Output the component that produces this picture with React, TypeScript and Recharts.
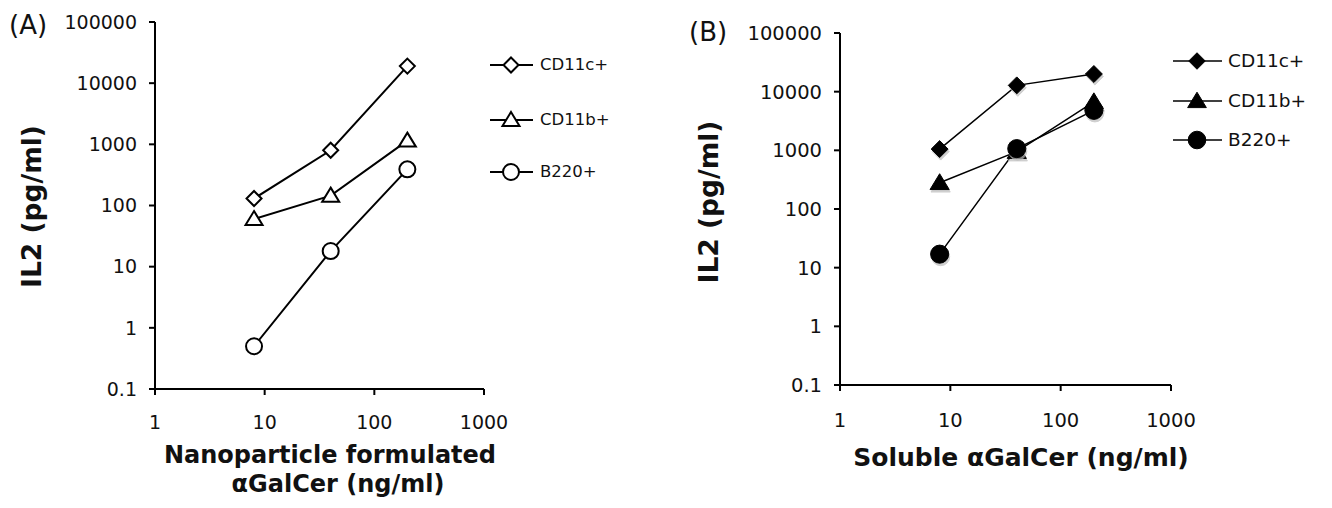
import React from 'react';
import { LineChart, Line, XAxis, YAxis, Legend } from 'recharts';

const xValues = [8, 40, 200];
const seriesNames = ['CD11c+', 'CD11b+', 'B220+'];
const seriesShapes = ['diamond', 'triangle', 'circle'];

const aCD11c = [130, 800, 19000];
const aCD11b = [60, 145, 1150];
const aB220 = [0.5, 18, 390];

const bCD11c = [1050, 12800, 20000];
const bCD11b = [280, 950, 6700];
const bB220 = [17, 1070, 4800];

const xTicks = [1, 10, 100, 1000];
const yTicks = [0.1, 1, 10, 100, 1000, 10000, 100000];

const FONT = '"DejaVu Sans", Verdana, sans-serif';

const buildRows = (s1: number[], s2: number[], s3: number[]) =>
  xValues.map((x, i) => ({ x, s0: s1[i], s1: s2[i], s2: s3[i] }));

const dataA = buildRows(aCD11c, aCD11b, aB220);
const dataB = buildRows(bCD11c, bCD11b, bB220);

function Marker({ cx, cy, shape, filled, scale = 1, shadow = false }: any) {
  const fill = filled ? '#000' : '#fff';
  const sw = filled ? 1 : 2;
  const render = (x: number, y: number, f: string, st: string, extra: any = {}) => {
    if (shape === 'diamond') {
      const s = 7.5 * scale;
      return <polygon points={`${x},${y - s} ${x + s},${y} ${x},${y + s} ${x - s},${y}`} fill={f} stroke={st} strokeWidth={sw} {...extra} />;
    }
    if (shape === 'triangle') {
      const w = 8.5 * scale;
      const h = 8 * scale;
      return <polygon points={`${x},${y - h} ${x + w},${y + h * 0.75} ${x - w},${y + h * 0.75}`} fill={f} stroke={st} strokeWidth={sw} strokeLinejoin="miter" {...extra} />;
    }
    return <circle cx={x} cy={y} r={8 * scale} fill={f} stroke={st} strokeWidth={sw} {...extra} />;
  };
  return (
    <g>
      {shadow ? render(cx + 1, cy + 2.5, '#bbb', '#bbb', { opacity: 0.7 }) : null}
      {render(cx, cy, fill, '#000')}
    </g>
  );
}

const makeDot = (shape: string, filled: boolean, shadow: boolean, scale: number) => (props: any) => {
  const { cx, cy, index } = props;
  if (cx == null || cy == null) return <g key={index} />;
  return <Marker key={index} cx={cx} cy={cy} shape={shape} filled={filled} shadow={shadow} scale={scale} />;
};

function LegendBox({ filled, rowTops, lineW, markerX, textX, fontSize, strokeW, markerScale }: any) {
  return (
    <div style={{ fontFamily: FONT, fontSize, color: '#111' }}>
      {seriesNames.map((name, i) => (
        <div key={name} style={{ position: 'absolute', left: 0, top: rowTops[i], height: 24, width: 200 }}>
          <svg width={lineW + 4} height={24} style={{ position: 'absolute', left: 0, top: 0 }}>
            <line x1={0} y1={12} x2={lineW} y2={12} stroke="#000" strokeWidth={strokeW} />
            <Marker cx={markerX} cy={12} shape={seriesShapes[i]} filled={filled} scale={markerScale} />
          </svg>
          <span style={{ position: 'absolute', left: textX, top: 0, lineHeight: '24px', whiteSpace: 'nowrap' }}>{name}</span>
        </div>
      ))}
    </div>
  );
}

function YTitle(props: any) {
  const { viewBox, cx, dy } = props;
  const y = viewBox.y + viewBox.height / 2 + dy;
  return (
    <text x={cx} y={y} transform={`rotate(-90 ${cx} ${y})`} textAnchor="middle" dominantBaseline="central"
      style={{ fontFamily: FONT, fontSize: 26.5, fontWeight: 'bold', fill: '#111' }}>
      IL2 (pg/ml)
    </text>
  );
}

function XTitle(props: any) {
  const { lines, cxs, ys, fontSize } = props;
  return (
    <text textAnchor="middle" style={{ fontFamily: FONT, fontSize, fontWeight: 'bold', fill: '#111' }}>
      {lines.map((l: string, i: number) => (
        <tspan key={i} x={cxs[i]} y={ys[i]}>{l}</tspan>
      ))}
    </text>
  );
}

function Panel({ data, filled, width, height, margin, tickMargin, yTickMargin, tickFont, xTitle, yTitleX, yTitleDy, tag, tagPos, legend, strokeW, markerScale }: any) {
  const tickStyle = { fontFamily: FONT, fontSize: tickFont, fill: '#111' };
  return (
    <LineChart width={width} height={height} data={data} margin={margin}>
      <XAxis
        dataKey="x"
        type="number"
        scale="log"
        domain={[1, 1000]}
        ticks={xTicks}
        allowDataOverflow
        stroke="#000"
        strokeWidth={2}
        tickSize={6}
        tickMargin={tickMargin}
        tick={tickStyle}
        height={30}
        label={<XTitle {...xTitle} />}
      />
      <YAxis
        type="number"
        scale="log"
        domain={[0.1, 100000]}
        ticks={yTicks}
        allowDataOverflow
        stroke="#000"
        strokeWidth={2}
        tickSize={6}
        tickMargin={yTickMargin}
        tick={tickStyle}
        width={70}
        tickFormatter={(v: number) => String(v)}
        label={<YTitle cx={yTitleX} dy={yTitleDy} />}
      />
      {['s0', 's1', 's2'].map((k, i) => (
        <Line
          key={k}
          dataKey={k}
          name={seriesNames[i]}
          stroke="#000"
          strokeWidth={strokeW}
          isAnimationActive={false}
          dot={makeDot(seriesShapes[i], filled, filled, markerScale)}
          activeDot={false}
        />
      ))}
      <Legend
        layout="vertical"
        align="center"
        verticalAlign="middle"
        wrapperStyle={{ left: legend.left, top: legend.top, width: 200, height: 150 }}
        content={() => <LegendBox filled={filled} {...legend} strokeW={strokeW} />}
      />
      <text x={tagPos[0]} y={tagPos[1]} style={{ fontFamily: FONT, fontSize: 26, fill: '#111' }}>{tag}</text>
    </LineChart>
  );
}

export default function App() {
  return (
    <div style={{ position: 'absolute', left: 0, top: 0, width: 1332, height: 508, background: '#fff', overflow: 'hidden' }}>
      <div style={{ position: 'absolute', left: 0, top: 0 }}>
        <Panel
          data={dataA}
          filled={false}
          width={660}
          height={508}
          margin={{ top: 22, right: 176, bottom: 89, left: 85 }}
          tickMargin={21}
          yTickMargin={12}
          tickFont={19}
          xTitle={{ lines: ['Nanoparticle formulated', '\u03b1GalCer (ng/ml)'], cxs: [330, 338], ys: [463, 492], fontSize: 24 }}
          yTitleX={31}
          yTitleDy={1}
          tag="(A)"
          tagPos={[9, 34]}
          strokeW={2}
          markerScale={1}
          legend={{ left: 490, top: 53, rowTops: [0, 55, 107], lineW: 43, markerX: 21, textX: 50, fontSize: 16.5, markerScale: 1 }}
        />
      </div>
      <div style={{ position: 'absolute', left: 680, top: 0 }}>
        <Panel
          data={dataB}
          filled={true}
          width={652}
          height={508}
          margin={{ top: 33, right: 161, bottom: 93, left: 90 }}
          tickMargin={22}
          yTickMargin={12}
          tickFont={19.5}
          xTitle={{ lines: ['Soluble \u03b1GalCer (ng/ml)'], cxs: [341], ys: [466], fontSize: 25 }}
          yTitleX={28}
          yTitleDy={-7}
          tag="(B)"
          tagPos={[9, 41]}
          strokeW={1.5}
          markerScale={1.13}
          legend={{ left: 493, top: 49, rowTops: [0, 40, 79], lineW: 49, markerX: 24, textX: 55, fontSize: 18.5, markerScale: 1.1 }}
        />
      </div>
    </div>
  );
}
